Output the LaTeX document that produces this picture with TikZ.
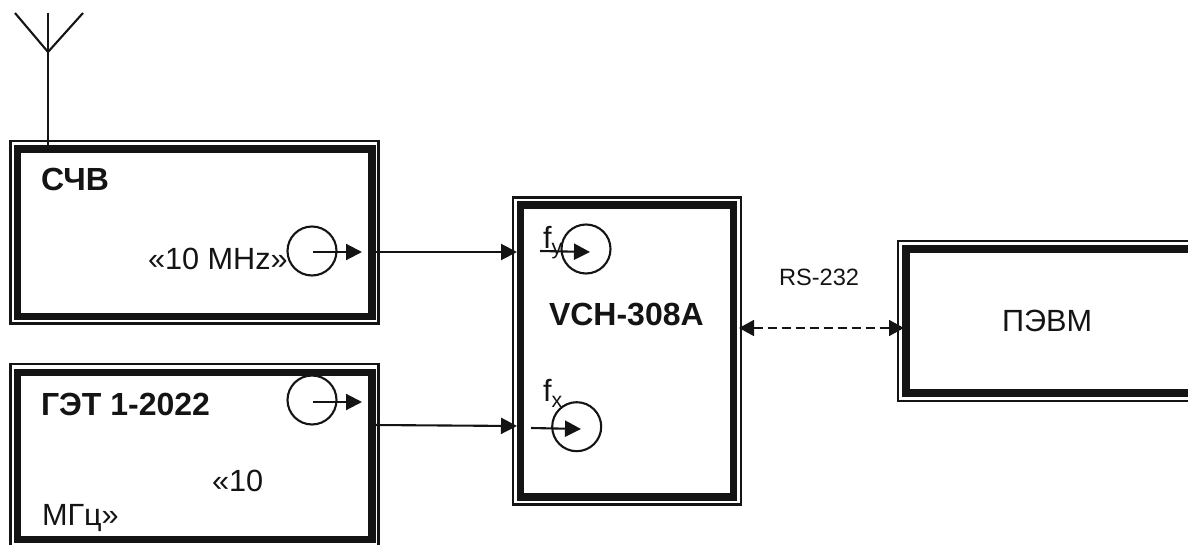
\documentclass[tikz,border=0pt]{standalone}
\usepackage{fontspec}
\setmainfont{Liberation Sans}
\usetikzlibrary{arrows.meta}
\definecolor{ink}{HTML}{141414}
\tikzset{
  thinframe/.style={draw=ink,line width=2.1*0.75pt,inner sep=0,outer sep=0,minimum width=#1},
  thickframe/.style={draw=ink,line width=7.6*0.75pt,inner sep=0,outer sep=0,minimum width=#1},
  port/.style={circle,draw=ink,line width=2.1*0.75pt,inner sep=0,outer sep=0,minimum size=49*0.75pt},
  conn/.style={draw=ink,line width=2.1*0.75pt},
  tip/.style={-{Triangle[length=16*0.75pt,width=16*0.75pt]}},
  lab/.style={inner sep=0,outer sep=0,anchor=base west,text=ink,font=\fontsize{23pt}{26pt}\selectfont},
  blab/.style={lab,font=\fontsize{24pt}{28pt}\selectfont\bfseries},
}
\begin{document}
\begin{tikzpicture}[x=0.75pt,y=-0.75pt]
\useasboundingbox (0,0) rectangle (1188,545);
\clip (0,0) rectangle (1188,545);
% antenna
\coordinate (antL) at (15,13);
\coordinate (antR) at (83,13);
\coordinate (antT) at (48,13);
\coordinate (antJ) at (48,52);
\coordinate (antB) at (48,146);
\draw[conn] (antL) -- (antJ) -- (antR);
\draw[conn] (antT) -- (antB);
% frames
\node[thinframe=368*0.75pt,minimum height=182.5*0.75pt] (a0) at (194.5,232.2) {};
\node[thickframe=354.6*0.75pt,minimum height=167.7*0.75pt] (a) at (194.6,232.8) {};
\node[thinframe=368*0.75pt,minimum height=186*0.75pt] (b0) at (194.5,457) {};
\node[thickframe=354.6*0.75pt,minimum height=167*0.75pt] (b) at (194.6,456) {};
\node[thinframe=228*0.75pt,minimum height=307*0.75pt] (c0) at (627.2,351) {};
\node[thickframe=213*0.75pt,minimum height=291.5*0.75pt] (c) at (627,351) {};
\node[thinframe=340*0.75pt,minimum height=160*0.75pt] (d0) at (1068,321.2) {};
\node[thickframe=330*0.75pt,minimum height=144*0.75pt] (d) at (1071,321) {};
% ports
\node[port] (pa) at (312,251) {};
\node[port] (pb) at (312,400) {};
\node[port] (pc) at (586,249) {};
\node[port] (pd) at (576.7,426.7) {};
% port arrows
\coordinate (pa1) at (313,252); \coordinate (pa2) at (362,252);
\coordinate (pb1) at (313,402); \coordinate (pb2) at (362,402);
\coordinate (pc1) at (540,251); \coordinate (pc2) at (590,252);
\coordinate (pd1) at (531,428); \coordinate (pd2) at (581,429);
\draw[conn,tip] (pa1) -- (pa2);
\draw[conn,tip] (pb1) -- (pb2);
\draw[conn,tip] (pc1) -- (pc2);
\draw[conn,tip] (pd1) -- (pd2);
% connectors
\coordinate (ya1) at (373,252); \coordinate (ya2) at (517,252);
\coordinate (yb1) at (373,425); \coordinate (yb2) at (517,426);
\coordinate (yc1) at (739,328); \coordinate (yc2) at (904,328);
\draw[conn,tip] (ya1) -- (ya2);
\draw[conn,tip] (yb1) -- (yb2);
\draw[draw=ink,line width=1.6*0.75pt,dash pattern=on 9*0.75pt off 5*0.75pt,{Triangle[length=15*0.75pt,width=16*0.75pt]}-{Triangle[length=15*0.75pt,width=16*0.75pt]}] (yc1) -- (yc2);
% text
\node[blab] (t1) at (41,191) {СЧВ};
\node[lab] (t2) at (148,269) {«10 MHz»};
\node[blab] (t3) at (41,415) {ГЭТ 1-2022};
\node[lab] (t4) at (212,491.5) {«10};
\node[lab] (t5) at (42,525.5) {МГц»};
\node[blab] (t6) at (549,325.5) {VCH-308A};
\node[lab] (t7) at (1002,331.5) {ПЭВМ};
\node[lab,font=\fontsize{17.7pt}{20pt}\selectfont] (t8) at (779,286) {RS-232};
\node[lab] (t9) at (543,249) {f\raisebox{-0.18em}{\fontsize{16pt}{18pt}\selectfont y}};
\node[lab] (t10) at (543,401.5) {f\raisebox{-0.18em}{\fontsize{16pt}{18pt}\selectfont x}};
\end{tikzpicture}
\end{document}
